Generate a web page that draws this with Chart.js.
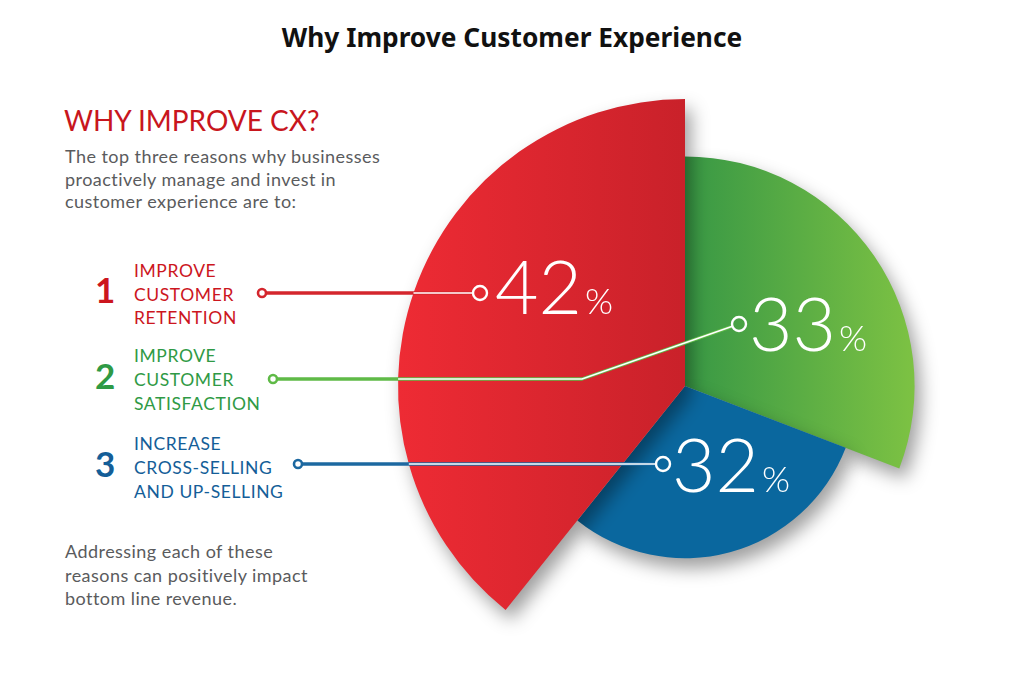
<!DOCTYPE html>
<html><head><meta charset="utf-8">
<script src="https://cdn.jsdelivr.net/npm/chart.js@4.4.1/dist/chart.umd.min.js"></script>
<style>
html,body{margin:0;padding:0;background:#fff;}
#wrap{position:relative;width:1024px;height:683px;overflow:hidden;background:#fff;}
#txt{position:absolute;left:0;top:0;}
#c{position:absolute;left:0;top:0;}
</style></head><body>
<div id="wrap">
<svg id="txt" width="1024" height="683" xmlns="http://www.w3.org/2000/svg"></svg>
<canvas id="c" width="1024" height="683"></canvas>
</div>
<script>
// ---------- data ----------
const title = 'Why Improve Customer Experience';
const heading = 'WHY IMPROVE CX?';
const introLines = ['The top three reasons why businesses', 'proactively manage and invest in', 'customer experience are to:'];
const outroLines = ['Addressing each of these', 'reasons can positively impact', 'bottom line revenue.'];
const categories = ['Improve customer retention', 'Improve customer satisfaction', 'Increase cross-selling and up-selling'];
const categoryLines = [['IMPROVE', 'CUSTOMER', 'RETENTION'], ['IMPROVE', 'CUSTOMER', 'SATISFACTION'], ['INCREASE', 'CROSS-SELLING', 'AND UP-SELLING']];
const rankLabels = ['1', '2', '3'];
const shares = [42, 33, 32];          // percent of businesses
const radiusTier = [5, 4, 3];         // relative wedge size in the graphic

// ---------- style / layout ----------
const textColors = ['#cc161e', '#2f9a45', '#145e98'];
const lineColors = ['#d4262d', '#5fba47', '#1c68a0'];
const clockwiseOrder = [1, 2, 0]; // from 12 o'clock
const listLayout = [
  {numX: 95, baselines: [277, 300.5, 324]},
  {numX: 95, baselines: [362, 386, 409.5]},
  {numX: 95, baselines: [450, 474, 497.5]}
];
const leaders = [
  {start: [262, 293], path: [[480, 293]], text: [495, 314]},
  {start: [273, 379], path: [[582, 379], [739, 324]], text: [749, 351]},
  {start: [298, 464], path: [[663, 464]], text: [672, 492]}
];

// ---------- static text (SVG) ----------
const NS = 'http://www.w3.org/2000/svg';
const svg = document.getElementById('txt');
function addText(x, y, str, a) {
  const t = document.createElementNS(NS, 'text');
  t.setAttribute('x', x); t.setAttribute('y', y);
  for (const k in a) t.setAttribute(k, a[k]);
  t.textContent = str; svg.appendChild(t); return t;
}
addText(512, 47, title, {'text-anchor': 'middle', 'font-family': 'Noto Sans, sans-serif', 'font-weight': '700', 'font-size': '26.3', fill: '#111'});
addText(64, 131, heading, {'font-family': 'Lato, sans-serif', 'font-size': '28', fill: '#c8161d'});
const bodyAttrs = {'font-family': 'Lato, sans-serif', 'font-size': '18', 'letter-spacing': '0.45', fill: '#5a5b5d'};
introLines.forEach((s, i) => addText(65, 163 + i * 22.7, s, bodyAttrs));
outroLines.forEach((s, i) => addText(65, 558 + i * 23.5, s, bodyAttrs));
categoryLines.forEach((lines, k) => {
  const L = listLayout[k];
  addText(L.numX, L.baselines[1] + 2.5, rankLabels[k], {'font-family': 'Lato, sans-serif', 'font-weight': '700', 'font-size': '35', fill: textColors[k]});
  lines.forEach((s, j) => addText(134, L.baselines[j], s, {'font-family': 'Lato, sans-serif', 'font-size': '17.5', 'letter-spacing': '0.6', fill: textColors[k]}));
});

// ---------- chart ----------
const total = shares.reduce((a, b) => a + b, 0);
const baseFill = ['#dc252d', '#55ad46', '#0a669d'];
function fillFor(k, chart) {
  const s = chart.scales.r;
  if (!chart.chartArea || !s || s.xCenter === undefined) return baseFill[k];
  const cx = s.xCenter, R = s.getDistanceFromCenterForValue(radiusTier[k]);
  const c = chart.ctx;
  if (k === 0) {
    const g = c.createLinearGradient(cx - R, 0, cx, 0);
    g.addColorStop(0, '#ee2b34'); g.addColorStop(1, '#c9212a'); return g;
  }
  if (k === 1) {
    const g = c.createLinearGradient(cx, 0, cx + R, 0);
    g.addColorStop(0, '#389845'); g.addColorStop(1, '#7dc243'); return g;
  }
  return '#0a679e';
}

const fxPlugin = {
  id: 'fx',
  beforeDatasetsDraw(chart) {
    const c = chart.ctx; c.save();
    c.shadowColor = 'rgba(0,0,0,0.38)'; c.shadowBlur = 18; c.shadowOffsetX = 6; c.shadowOffsetY = 10;
  },
  afterDatasetsDraw(chart) {
    const c = chart.ctx; c.restore();
    const s = chart.scales.r, cx = s.xCenter, cy = s.yCenter;
    const Rmax = s.getDistanceFromCenterForValue(radiusTier[0]);
    leaders.forEach((ld, k) => {
      const pts = [ld.start].concat(ld.path);
      const end = pts[pts.length - 1], prev = pts[pts.length - 2];
      const dx = end[0] - prev[0], dy = end[1] - prev[1], d = Math.hypot(dx, dy);
      const endIn = [end[0] - dx / d * 7, end[1] - dy / d * 7];
      const drawn = pts.slice(0, -1).concat([endIn]);
      c.save(); c.lineCap = 'butt'; c.lineJoin = 'round';
      // coloured leader
      c.strokeStyle = lineColors[k]; c.lineWidth = 3.4;
      c.beginPath(); c.moveTo(drawn[0][0] + 4, drawn[0][1]);
      for (let i = 1; i < drawn.length; i++) c.lineTo(drawn[i][0], drawn[i][1]);
      c.stroke();
      // white inner part inside the pie
      const y0 = ld.start[1];
      const ex = cx - Math.sqrt(Math.max(0, Rmax * Rmax - (y0 - cy) * (y0 - cy)));
      c.strokeStyle = '#fff'; c.lineWidth = 1.6;
      c.beginPath(); c.moveTo(ex, y0);
      for (let i = 1; i < drawn.length; i++) c.lineTo(drawn[i][0], drawn[i][1]);
      c.stroke();
      // start dot
      c.beginPath(); c.arc(ld.start[0], ld.start[1], 4, 0, Math.PI * 2);
      c.fillStyle = '#fff'; c.fill(); c.strokeStyle = lineColors[k]; c.lineWidth = 2.6; c.stroke();
      // end ring
      c.beginPath(); c.arc(end[0], end[1], 7, 0, Math.PI * 2);
      c.strokeStyle = '#fff'; c.lineWidth = 2.4; c.stroke();
      // value label
      c.fillStyle = '#fff'; c.textBaseline = 'alphabetic'; c.textAlign = 'left';
      c.font = '300 75px Lato, sans-serif';
      const txt = String(shares[k]);
      c.fillText(txt, ld.text[0], ld.text[1]);
      const w = c.measureText(txt).width;
      c.font = '300 36px Lato, sans-serif';
      c.fillText('%', ld.text[0] + w + 3, ld.text[1]);
      c.restore();
    });
  }
};

new Chart(document.getElementById('c'), {
  type: 'polarArea',
  data: {
    labels: clockwiseOrder.map(k => categories[k]),
    datasets: [{
      data: clockwiseOrder.map(k => radiusTier[k]),
      borderWidth: 0,
      angle: ctx => shares[clockwiseOrder[ctx.dataIndex]] / total * 360,
      backgroundColor: ctx => fillFor(clockwiseOrder[ctx.dataIndex], ctx.chart)
    }]
  },
  options: {
    responsive: false,
    animation: false,
    events: [],
    layout: {padding: {left: 398, right: 52, top: 99, bottom: 10}},
    plugins: {legend: {display: false}, tooltip: {enabled: false}},
    scales: {r: {display: false, min: 0, max: 5, startAngle: 0}}
  },
  plugins: [fxPlugin]
});
</script>
</body></html>
